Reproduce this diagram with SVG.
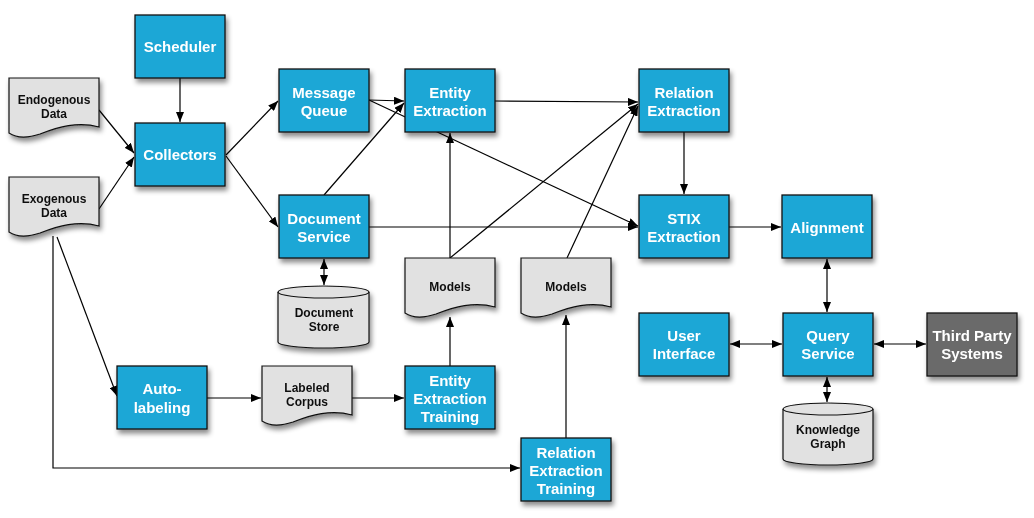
<svg xmlns="http://www.w3.org/2000/svg" width="1034" height="518" viewBox="0 0 1034 518">
<defs>
<filter id="sh" x="-20%" y="-20%" width="150%" height="160%">
<feDropShadow dx="2" dy="4" stdDeviation="2.5" flood-color="#000" flood-opacity="0.45"/>
</filter>
<marker id="ah" viewBox="0 0 10 8" refX="10" refY="4" markerWidth="10" markerHeight="8" markerUnits="userSpaceOnUse" orient="auto-start-reverse">
<path d="M0,0 L10,4 L0,8 z" fill="#000"/>
</marker>
</defs>
<style>
.box{fill:#1ea7d6;stroke:#111;stroke-width:1.3}
.dark{fill:#6b6b6b;stroke:#111;stroke-width:1.3}
.doc{fill:#e1e1e1;stroke:#111;stroke-width:1.2}
.bt{font-family:"Liberation Sans",Arial,sans-serif;font-weight:bold;font-size:15px;fill:#fff;text-anchor:middle}
.dt{font-family:"Liberation Sans",Arial,sans-serif;font-weight:bold;font-size:12px;fill:#111;text-anchor:middle}
.c{fill:none;stroke:#000;stroke-width:1.2}
.a{marker-end:url(#ah)}
.b{marker-start:url(#ah);marker-end:url(#ah)}
</style>
<rect width="1034" height="518" fill="#fff"/>

<g id="connectors">
<line class="c a" x1="180" y1="78" x2="180" y2="122"/>
<line class="c a" x1="99" y1="110" x2="134" y2="153"/>
<line class="c a" x1="99" y1="209" x2="134" y2="157"/>
<line class="c a" x1="226" y1="155" x2="278" y2="101"/>
<line class="c a" x1="226" y1="156" x2="278" y2="227"/>
<line class="c a" x1="369" y1="100" x2="404" y2="101"/>
<line class="c a" x1="369" y1="100" x2="638" y2="226"/>
<line class="c a" x1="324" y1="195" x2="404" y2="103"/>
<line class="c a" x1="495" y1="101" x2="638" y2="102"/>
<line class="c a" x1="369" y1="227" x2="638" y2="227"/>
<line class="c a" x1="450" y1="258" x2="450" y2="133"/>
<line class="c a" x1="450" y1="258" x2="638" y2="104"/>
<line class="c a" x1="567" y1="258" x2="638" y2="106"/>
<line class="c a" x1="684" y1="132" x2="684" y2="194"/>
<line class="c a" x1="729" y1="227" x2="781" y2="227"/>
<line class="c b" x1="827" y1="259" x2="827" y2="312"/>
<line class="c b" x1="730" y1="344" x2="782" y2="344"/>
<line class="c b" x1="874" y1="344" x2="926" y2="344"/>
<line class="c b" x1="827" y1="377" x2="827" y2="402"/>
<line class="c b" x1="324" y1="259" x2="324" y2="285"/>
<line class="c a" x1="57" y1="237" x2="117" y2="396"/>
<polyline class="c a" points="53,236 53,468 520,468"/>
<line class="c a" x1="207" y1="398" x2="261" y2="398"/>
<line class="c a" x1="352" y1="398" x2="404" y2="398"/>
<line class="c a" x1="450" y1="366" x2="450" y2="317"/>
<line class="c a" x1="566" y1="438" x2="566" y2="315"/>
</g>

<g id="scheduler" filter="url(#sh)"><rect class="box" x="135" y="15" width="90" height="63"/><text class="bt" x="180" y="52">Scheduler</text></g>
<g id="collectors" filter="url(#sh)"><rect class="box" x="135" y="123" width="90" height="63"/><text class="bt" x="180" y="160">Collectors</text></g>
<g id="message-queue" filter="url(#sh)"><rect class="box" x="279" y="69" width="90" height="63"/><text class="bt" x="324" y="98">Message</text><text class="bt" x="324" y="116">Queue</text></g>
<g id="entity-extraction" filter="url(#sh)"><rect class="box" x="405" y="69" width="90" height="63"/><text class="bt" x="450" y="98">Entity</text><text class="bt" x="450" y="116">Extraction</text></g>
<g id="relation-extraction" filter="url(#sh)"><rect class="box" x="639" y="69" width="90" height="63"/><text class="bt" x="684" y="98">Relation</text><text class="bt" x="684" y="116">Extraction</text></g>
<g id="document-service" filter="url(#sh)"><rect class="box" x="279" y="195" width="90" height="63"/><text class="bt" x="324" y="224">Document</text><text class="bt" x="324" y="242">Service</text></g>
<g id="stix-extraction" filter="url(#sh)"><rect class="box" x="639" y="195" width="90" height="63"/><text class="bt" x="684" y="224">STIX</text><text class="bt" x="684" y="242">Extraction</text></g>
<g id="alignment" filter="url(#sh)"><rect class="box" x="782" y="195" width="90" height="63"/><text class="bt" x="827" y="233">Alignment</text></g>
<g id="user-interface" filter="url(#sh)"><rect class="box" x="639" y="313" width="90" height="63"/><text class="bt" x="684" y="341">User</text><text class="bt" x="684" y="359">Interface</text></g>
<g id="query-service" filter="url(#sh)"><rect class="box" x="783" y="313" width="90" height="63"/><text class="bt" x="828" y="341">Query</text><text class="bt" x="828" y="359">Service</text></g>
<g id="third-party" filter="url(#sh)"><rect class="dark" x="927" y="313" width="90" height="63"/><text class="bt" x="972" y="341">Third Party</text><text class="bt" x="972" y="359">Systems</text></g>
<g id="auto-labeling" filter="url(#sh)"><rect class="box" x="117" y="366" width="90" height="63"/><text class="bt" x="162" y="394">Auto-</text><text class="bt" x="162" y="413">labeling</text></g>
<g id="entity-extraction-training" filter="url(#sh)"><rect class="box" x="405" y="366" width="90" height="63"/><text class="bt" x="450" y="386">Entity</text><text class="bt" x="450" y="404">Extraction</text><text class="bt" x="450" y="422">Training</text></g>
<g id="relation-extraction-training" filter="url(#sh)"><rect class="box" x="521" y="438" width="90" height="63"/><text class="bt" x="566" y="458">Relation</text><text class="bt" x="566" y="476">Extraction</text><text class="bt" x="566" y="494">Training</text></g>

<g id="endogenous-data" filter="url(#sh)"><path class="doc" d="M9,78 H99 V127 C78,121 58,127 40,134 C25,139 15,137 9,133 Z"/><text class="dt" x="54" y="104">Endogenous</text><text class="dt" x="54" y="118">Data</text></g>
<g id="exogenous-data" filter="url(#sh)"><path class="doc" d="M9,177 H99 V226 C78,220 58,226 40,233 C25,238 15,236 9,232 Z"/><text class="dt" x="54" y="203">Exogenous</text><text class="dt" x="54" y="217">Data</text></g>
<g id="models-1" filter="url(#sh)"><path class="doc" d="M405,258 H495 V307 C474,301 454,307 436,314 C421,319 411,317 405,313 Z"/><text class="dt" x="450" y="291">Models</text></g>
<g id="models-2" filter="url(#sh)"><path class="doc" d="M521,258 H611 V307 C590,301 570,307 552,314 C537,319 527,317 521,313 Z"/><text class="dt" x="566" y="291">Models</text></g>
<g id="labeled-corpus" filter="url(#sh)"><path class="doc" d="M262,366 H352 V415 C331,409 311,415 293,422 C278,427 268,425 262,421 Z"/><text class="dt" x="307" y="392">Labeled</text><text class="dt" x="307" y="406">Corpus</text></g>

<g id="document-store" filter="url(#sh)"><path class="doc" d="M278,292 V342 A45.5,6 0 0 0 369,342 V292 A45.5,6 0 0 0 278,292 Z"/><path class="doc" d="M278,292 A45.5,6 0 0 0 369,292" fill="none"/><text class="dt" x="324" y="317">Document</text><text class="dt" x="324" y="331">Store</text></g>
<g id="knowledge-graph" filter="url(#sh)"><path class="doc" d="M783,409 V459 A45,6 0 0 0 873,459 V409 A45,6 0 0 0 783,409 Z"/><path class="doc" d="M783,409 A45,6 0 0 0 873,409" fill="none"/><text class="dt" x="828" y="434">Knowledge</text><text class="dt" x="828" y="448">Graph</text></g>
</svg>
